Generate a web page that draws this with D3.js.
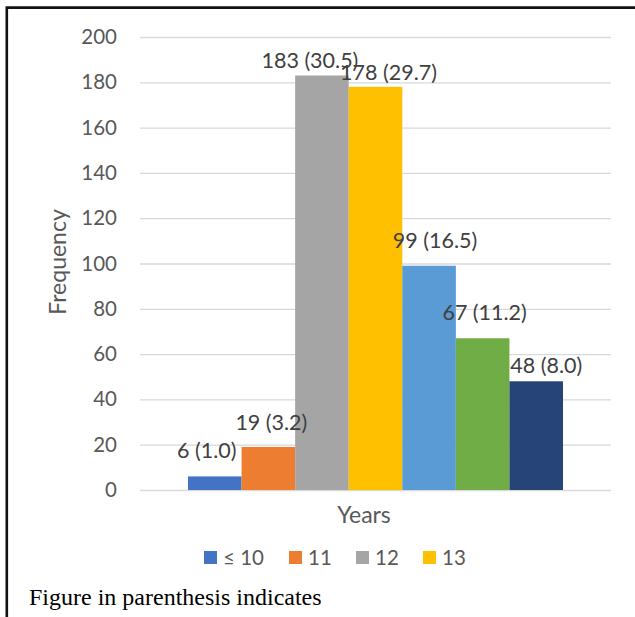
<!DOCTYPE html>
<html>
<head>
<meta charset="utf-8">
<script src="https://cdn.jsdelivr.net/npm/d3@7"></script>
<style>
  html, body { margin: 0; padding: 0; background: #fff; }
  svg { display: block; }
</style>
</head>
<body>
<svg id="chart" width="635" height="617"></svg>
<script>
// Age groups (years) and their frequencies; percentage shares in parentheses
const categories = ["≤ 10", "11", "12", "13", "14", "15", "≥ 16"];
const frequencies = [6, 19, 183, 178, 99, 67, 48];
const percents = [1.0, 3.2, 30.5, 29.7, 16.5, 11.2, 8.0];
const yTicks = [0, 20, 40, 60, 80, 100, 120, 140, 160, 180, 200];
const colors = ["#4472C4", "#ED7D31", "#A5A5A5", "#FFC000", "#5B9BD5", "#70AD47", "#264478"];
// Hand-placed offsets for the value labels so neighbours don't collide
const labelNudge = [[-8, 0], [3, 1], [-12, 10], [13, 11], [6, 0], [2, 0], [10, 10]];
const legendCount = 4; // legend row only has room for the first four entries

const svg = d3.select("#chart");
const W = 635, H = 617;
const font = "Lato, 'Open Sans', sans-serif";

// Chart frame (extends past the right and bottom edges)
svg.append("path")
  .attr("d", `M6.8,${H + 10} L6.8,7.6 L${W + 10},7.6`)
  .attr("fill", "none")
  .attr("stroke", "#111")
  .attr("stroke-width", 2.6);

const plot = { left: 140, right: 611, top: 37, bottom: 490 };

const y = d3.scaleLinear().domain([0, 200]).range([plot.bottom, plot.top]);
const group = d3.scaleBand().domain(["all"]).range([plot.left, plot.right]).paddingInner(0).paddingOuter(0.128);
const x = d3.scaleBand().domain(categories).range([group("all"), group("all") + group.bandwidth()]).padding(0);

// Gridlines and value axis
const yAxis = d3.axisLeft(y).tickValues(yTicks).tickSize(-(plot.right - plot.left)).tickPadding(23);
const gy = svg.append("g").attr("transform", `translate(${plot.left},0)`).call(yAxis);
gy.select(".domain").remove();
gy.selectAll(".tick line").attr("stroke", "#d9d9d9").attr("stroke-width", 1.3);
gy.selectAll(".tick text")
  .attr("fill", "#595959")
  .style("font-family", font)
  .style("font-size", "20.5px");

// Bars
const data = categories.map((c, i) => ({ c, v: frequencies[i], p: percents[i], col: colors[i], n: labelNudge[i] }));
svg.append("g").selectAll("rect").data(data).join("rect")
  .attr("x", d => x(d.c))
  .attr("y", d => y(d.v))
  .attr("width", x.bandwidth())
  .attr("height", d => y(0) - y(d.v))
  .attr("fill", d => d.col);

// Value labels: frequency (percent)
svg.append("g").selectAll("text").data(data).join("text")
  .attr("x", d => x(d.c) + x.bandwidth() / 2 + d.n[0])
  .attr("y", d => y(d.v) - 18 + d.n[1])
  .attr("text-anchor", "middle")
  .attr("fill", "#404040")
  .style("font-family", font)
  .style("font-size", "21.5px")
  .text(d => `${d.v} (${d.p.toFixed(1)})`);

// Axis titles
svg.append("text")
  .attr("transform", "translate(66,262) rotate(-90)")
  .attr("text-anchor", "middle")
  .attr("fill", "#595959")
  .style("font-family", font)
  .style("font-size", "23px")
  .text("Frequency");

svg.append("text")
  .attr("x", 364)
  .attr("y", 523)
  .attr("text-anchor", "middle")
  .attr("fill", "#595959")
  .style("font-family", font)
  .style("font-size", "23px")
  .text("Years");

// Legend
const legendX = [204, 289, 356, 423];
const leg = svg.append("g").selectAll("g").data(data.slice(0, legendCount)).join("g")
  .attr("transform", (d, i) => `translate(${legendX[i]},551)`);
leg.append("rect").attr("width", 13).attr("height", 13).attr("fill", d => d.col);
leg.append("text")
  .attr("x", 19)
  .attr("y", 13.5)
  .attr("fill", "#595959")
  .style("font-family", font)
  .style("font-size", "20.5px")
  .text(d => d.c);

// Footnote
svg.append("text")
  .attr("x", 29)
  .attr("y", 605)
  .attr("fill", "#000")
  .style("font-family", "'Liberation Serif', 'Times New Roman', serif")
  .style("font-size", "24px")
  .text("Figure in parenthesis indicates");
</script>
</body>
</html>
